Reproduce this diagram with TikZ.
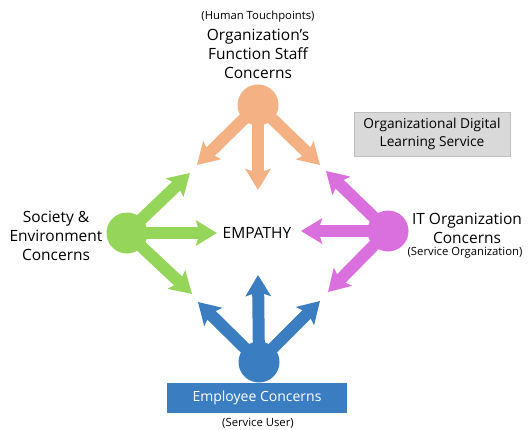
\documentclass[tikz,border=0pt]{standalone}
\usepackage{fontspec}
\setmainfont{Open Sans}
\usetikzlibrary{arrows.meta}

\definecolor{peach}{HTML}{F4B183}
\definecolor{leaf}{HTML}{95D55A}
\definecolor{orchid}{HTML}{DA6FDE}
\definecolor{steel}{HTML}{3B7DC1}

\tikzset{
  hub/.style={circle, fill=#1, minimum size=41pt, inner sep=0pt},
  push/.style={draw=#1, line width=12pt, -{Stealth[width=25pt,length=21pt,inset=4pt]}},
  big/.style={align=center, font=\fontsize{15.5}{19}\selectfont},
  small/.style={align=center, font=\fontsize{11.3}{13}\selectfont}
}

\begin{document}
\begin{tikzpicture}[x=1pt, y=-1pt]
\useasboundingbox (0,0) rectangle (528,429);

% the four groups of concerns
\node[hub=peach] (staff) at (258,105) {};
\node[hub=leaf] (society) at (127,233) {};
\node[hub=orchid] (it) at (388,231) {};
\node[hub=steel] (employee) at (259,362) {};

% arrow tips around the centre
\coordinate (staffL) at (197,165);
\coordinate (staffD) at (258,190);
\coordinate (staffR) at (320,165);
\coordinate (societyU) at (190,173);
\coordinate (societyR) at (217,233);
\coordinate (societyD) at (192,294);
\coordinate (itU) at (326,171);
\coordinate (itL) at (301,231);
\coordinate (itD) at (328,292);
\coordinate (employeeL) at (198,302);
\coordinate (employeeU) at (258,275);
\coordinate (employeeR) at (320,301);

\draw[push=peach] (staff.center) -- (staffL);
\draw[push=peach] (staff.center) -- (staffD);
\draw[push=peach] (staff.center) -- (staffR);
\draw[push=leaf] (society.center) -- (societyU);
\draw[push=leaf] (society.center) -- (societyR);
\draw[push=leaf] (society.center) -- (societyD);
\draw[push=orchid] (it.center) -- (itU);
\draw[push=orchid] (it.center) -- (itL);
\draw[push=orchid] (it.center) -- (itD);
\draw[push=steel] (employee.center) -- (employeeL);
\draw[push=steel] (employee.center) -- (employeeU);
\draw[push=steel] (employee.center) -- (employeeR);

\node[big] (empathy) at (257,233) {EMPATHY};

% labels
\node[small] (touch) at (258,17) {(Human Touchpoints)};
\node[big] (stafftext) at (258,54) {Organization’s\\Function Staff\\Concerns};
\node[big] (societytext) at (56,236) {Society \&\\Environment\\Concerns};
\node[big] (ittext) at (467,228) {IT Organization\\Concerns};
\node[small] (itnote) at (465,253) {(Service Organization)};

\node[rectangle, fill=steel, minimum width=180pt, minimum height=30pt, text=white,
  font=\fontsize{14}{16}\selectfont] (emptext) at (257,398) {Employee Concerns};
\node[small] (empnote) at (258,423) {(Service User)};

\node[rectangle, draw=black!25, fill=black!15, minimum width=156pt, minimum height=44pt,
  align=center, font=\fontsize{13.7}{18}\selectfont] (service) at (432,134)
  {Organizational Digital\\Learning Service};
\end{tikzpicture}
\end{document}
